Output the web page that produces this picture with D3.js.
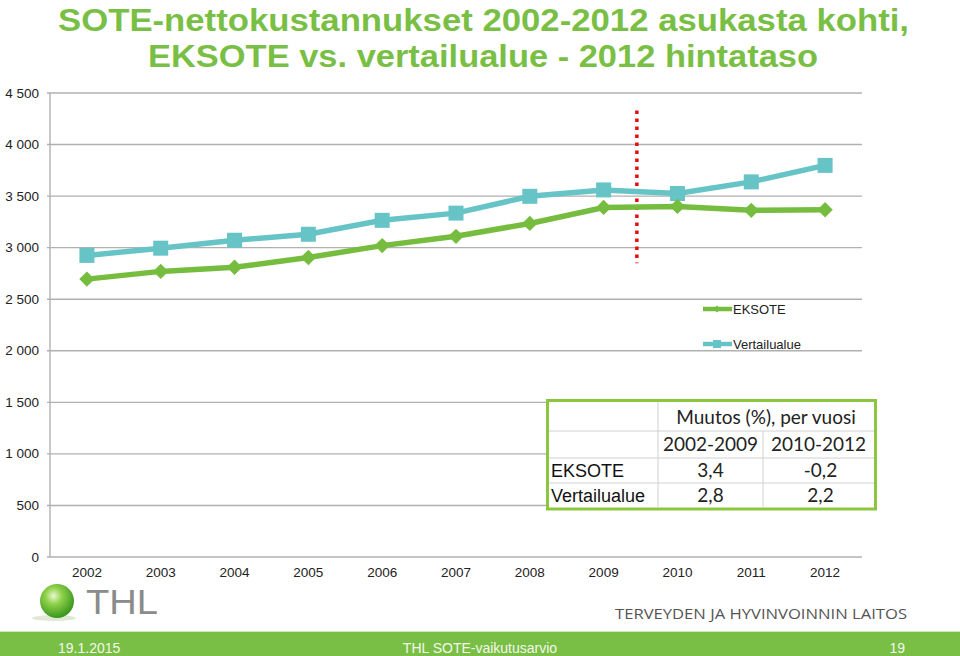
<!DOCTYPE html>
<html><head><meta charset="utf-8">
<script src="https://cdn.jsdelivr.net/npm/d3@7/dist/d3.min.js"></script>
<style>body{margin:0;background:#fff}svg{display:block}</style>
</head><body>
<svg id="c" width="960" height="656"></svg>
<script>
const years = ["2002","2003","2004","2005","2006","2007","2008","2009","2010","2011","2012"];
const eksote = [2695,2770,2810,2905,3020,3110,3235,3390,3400,3362,3368];
const vertailu = [2925,2995,3072,3130,3265,3335,3498,3560,3525,3638,3798];
const yTicks = [0,500,1000,1500,2000,2500,3000,3500,4000,4500];
const seriesNames = ["EKSOTE","Vertailualue"];
const tableHeader = "Muutos (%), per vuosi";
const tablePeriods = ["2002-2009","2010-2012"];
const tableRows = [["EKSOTE","3,4","-0,2"],["Vertailualue","2,8","2,2"]];
const titleLines = ["SOTE-nettokustannukset 2002-2012 asukasta kohti,","EKSOTE vs. vertailualue - 2012 hintataso"];
const footer = ["19.1.2015","THL SOTE-vaikutusarvio","19"];
const divider = {after:"2009", frac:0.45, from:4330, to:2850};

const svg = d3.select("#c");
const GREEN="#76bd3f", TEAL="#66c4c7";
const x = d3.scaleBand().domain(years).range([50,862]).padding(0);
const y = d3.scaleLinear().domain([0,4500]).range([557,93]);
const cx = d => x(d)+x.bandwidth()/2;

// title
const titleW=[851,670], titleX=[58,148];
svg.selectAll("text.title").data(titleLines).join("text")
  .attr("x",(d,i)=>titleX[i]).attr("y",(d,i)=>31+i*36)
  .attr("font-family","'Liberation Sans Narrow','Arial Narrow','Liberation Sans',sans-serif")
  .attr("font-weight","bold").attr("font-size",32).attr("fill","#7abf45")
  .attr("textLength",(d,i)=>titleW[i]).attr("lengthAdjust","spacingAndGlyphs").text(d=>d);

// grid
const g = svg.append("g");
g.selectAll("line.grid").data(yTicks).join("line")
  .attr("x1",47).attr("x2",862).attr("y1",d=>y(d)).attr("y2",d=>y(d))
  .attr("stroke","#b0b0b0").attr("stroke-width",1.4);
g.append("line").attr("x1",50).attr("x2",50).attr("y1",y(4500)).attr("y2",y(0)).attr("stroke","#b0b0b0").attr("stroke-width",1.4);
g.selectAll("text.yl").data(yTicks).join("text")
  .attr("x",39).attr("y",d=>y(d)+4.5).attr("text-anchor","end")
  .attr("font-family","'Liberation Sans',Arial,sans-serif").attr("font-size",13.5).attr("fill","#222")
  .text(d=>d3.format(",")(d).replace(","," "));
g.selectAll("text.xl").data(years).join("text")
  .attr("x",d=>cx(d)).attr("y",577).attr("text-anchor","middle")
  .attr("font-family","'Liberation Sans',Arial,sans-serif").attr("font-size",13.5).attr("fill","#222").text(d=>d);

// red divider
const dx = x(divider.after)+x.bandwidth()/2 + divider.frac*x.bandwidth();
svg.append("line").attr("x1",dx).attr("x2",dx).attr("y1",y(divider.from)).attr("y2",y(divider.to))
  .attr("stroke","#e01010").attr("stroke-width",3.5).attr("stroke-dasharray","3.5,4.5");

// lines
const line = d3.line().x((d,i)=>cx(years[i])).y(d=>y(d));
svg.append("path").attr("d",line(vertailu)).attr("fill","none").attr("stroke",TEAL).attr("stroke-width",5.5);
svg.selectAll("rect.sq").data(vertailu).join("rect")
  .attr("x",(d,i)=>cx(years[i])-7.5).attr("y",d=>y(d)-7.5).attr("width",15).attr("height",15).attr("fill",TEAL);
svg.append("path").attr("d",line(eksote)).attr("fill","none").attr("stroke",GREEN).attr("stroke-width",5.5);
const diamond = d3.symbol().type(d3.symbolDiamond2).size(150);
svg.selectAll("path.dm").data(eksote).join("path")
  .attr("d",diamond).attr("transform",(d,i)=>`translate(${cx(years[i])},${y(d)})`).attr("fill",GREEN);

// legend
const leg = svg.append("g");
seriesNames.forEach((n,i)=>{
  const ly = 309 + i*35, col = i===0?GREEN:TEAL;
  leg.append("line").attr("x1",703).attr("x2",732).attr("y1",ly).attr("y2",ly).attr("stroke",col).attr("stroke-width",4.5);
  if(i===0) leg.append("path").attr("d",d3.symbol().type(d3.symbolDiamond2).size(30)).attr("transform",`translate(717,${ly})`).attr("fill",col);
  else leg.append("rect").attr("x",713).attr("y",ly-4).attr("width",8).attr("height",8).attr("fill",col);
  leg.append("text").attr("x",733).attr("y",ly+4.5).attr("font-family","'Liberation Sans',Arial,sans-serif")
    .attr("font-size",13).attr("fill","#222").text(n);
});

// table
const t = svg.append("g");
t.append("rect").attr("x",547.5).attr("y",400.5).attr("width",328).attr("height",108.5).attr("fill","#fff").attr("stroke","#8cc63f").attr("stroke-width",3);
const cols=[549,658,763,874], rows=[402,431,458,483,507];
t.append("line").attr("x1",cols[1]).attr("x2",cols[1]).attr("y1",rows[0]).attr("y2",rows[4]).attr("stroke","#d0d0d0");
t.append("line").attr("x1",cols[2]).attr("x2",cols[2]).attr("y1",rows[1]).attr("y2",rows[4]).attr("stroke","#d0d0d0");
[1,2,3].forEach(r=>t.append("line").attr("x1",cols[0]).attr("x2",cols[3]).attr("y1",rows[r]).attr("y2",rows[r]).attr("stroke","#d0d0d0"));
const calib="Lato,'Open Sans',sans-serif";
t.append("text").attr("x",(cols[1]+cols[3])/2).attr("y",424).attr("text-anchor","middle").attr("font-family",calib).attr("font-size",19).attr("fill","#222").text(tableHeader);
tablePeriods.forEach((p,i)=>t.append("text").attr("x",(cols[i+1]+cols[i+2])/2).attr("y",451).attr("text-anchor","middle").attr("font-family",calib).attr("font-size",19).attr("fill","#222").text(p));
tableRows.forEach((r,ri)=>{
  const ty = 477 + ri*25;
  t.append("text").attr("x",551).attr("y",ty).attr("font-family","'Liberation Sans',Arial,sans-serif").attr("font-size",18).attr("fill","#111").text(r[0]);
  t.append("text").attr("x",(cols[1]+cols[2])/2).attr("y",ty).attr("text-anchor","middle").attr("font-family",calib).attr("font-size",19).attr("fill","#222").text(r[1]);
  t.append("text").attr("x",(cols[2]+cols[3])/2+2).attr("y",ty).attr("text-anchor","middle").attr("font-family",calib).attr("font-size",19).attr("fill","#222").text(r[2]);
});

// THL logo
const defs = svg.append("defs");
const rg = defs.append("radialGradient").attr("id","ball").attr("cx","0.4").attr("cy","0.35").attr("r","0.7");
rg.append("stop").attr("offset","0").attr("stop-color","#e8f7d0");
rg.append("stop").attr("offset","0.35").attr("stop-color","#8fd14a");
rg.append("stop").attr("offset","1").attr("stop-color","#2f8f1a");
svg.append("ellipse").attr("cx",54).attr("cy",618).attr("rx",22).attr("ry",3).attr("fill","#dfe9d6");
svg.append("circle").attr("cx",57).attr("cy",601).attr("r",17).attr("fill","url(#ball)");
svg.append("text").attr("x",86).attr("y",614).attr("font-family","'Liberation Sans Narrow','Liberation Sans',sans-serif")
  .attr("font-size",35).attr("fill","#8b8b8b").attr("textLength",72).attr("lengthAdjust","spacingAndGlyphs").text("THL");
svg.append("text").attr("x",615).attr("y",619).attr("font-family","'Open Sans',sans-serif").attr("font-size",15)
  .attr("fill","#555").attr("textLength",292).attr("lengthAdjust","spacingAndGlyphs").text("TERVEYDEN JA HYVINVOINNIN LAITOS");

// footer
svg.append("rect").attr("x",0).attr("y",631).attr("width",960).attr("height",1.5).attr("fill","#cfe6b8");
svg.append("rect").attr("x",0).attr("y",632).attr("width",960).attr("height",24).attr("fill","#7abf45");
const fx=[58,480,905], fa=["start","middle","end"];
footer.forEach((f,i)=>svg.append("text").attr("x",fx[i]).attr("y",653).attr("text-anchor",fa[i])
  .attr("font-family","'Liberation Sans',Arial,sans-serif").attr("font-size",14).attr("fill","#f2f7ea").text(f));
</script>
</body></html>
